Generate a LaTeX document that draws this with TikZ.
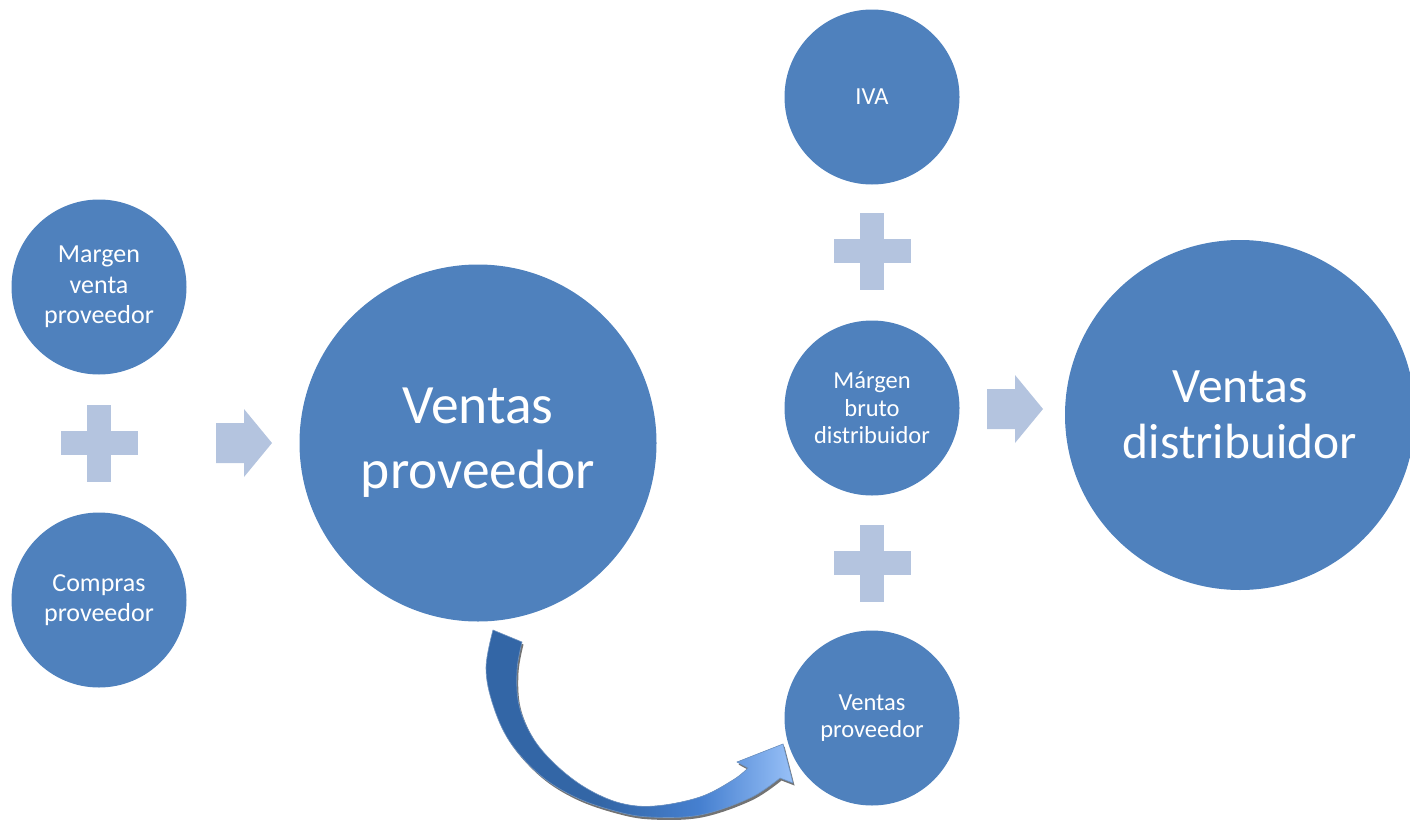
\documentclass[tikz,border=0pt]{standalone}
\usepackage{fontspec}
\setmainfont{Carlito}
\definecolor{circ}{HTML}{4F81BD}
\definecolor{plusc}{HTML}{B4C4DF}
\definecolor{arrdark}{HTML}{3366A6}
\definecolor{arrmid}{HTML}{4680D0}
\definecolor{arrlight}{HTML}{9EC5FA}
\tikzset{
  bubble/.style={circle, fill=circ, text=white, align=center, inner sep=0pt},
  smallbubble/.style={bubble, minimum size=175pt, font=\fontsize{26}{30.5}\selectfont},
  smallbubbleb/.style={bubble, minimum size=175pt, font=\fontsize{24.5}{27.5}\selectfont},
  plussign/.pic={
    \fill[plusc] (-12,-38.5) rectangle (12,38.5);
    \fill[plusc] (-38.5,-12) rectangle (38.5,12);
  },
  blockarr/.pic={
    \fill[plusc] (0,-20) -- (28,-20) -- (28,-34) -- (56,0) -- (28,34) -- (28,20) -- (0,20) -- cycle;
  }
}
\def\curvepath{(493,630) -- (522,642) -- plot[smooth, tension=0.6] coordinates {(522,642) (517,670) (519,705) (533,738) (556,765) (586,788) (620,803) (655,806) (700,797) (733,780) (748,768)} -- (737,762) -- (783,744) -- (793,783) -- (780,778) -- plot[smooth, tension=0.6] coordinates {(780,778) (750,798) (700,815) (650,817) (615,811) (575,797) (540,775) (510,742) (493,705) (486,668) (493,630)} -- cycle}
\begin{document}
\begin{tikzpicture}[x=1pt, y=-1pt]
\useasboundingbox (0,0) rectangle (1410,819);
% left column
\node[smallbubble] (mvp) at (99,287) {Margen\\venta\\proveedor};
\node[smallbubble] (cp) at (99,600) {Compras\\proveedor};
\coordinate (plusL) at (99,443);
\pic at (plusL) {plussign};
\coordinate (arrL) at (216,443);
\pic at (arrL) {blockarr};
% big circle
\node[bubble, minimum size=357pt, font=\fontsize{55.5}{65}\selectfont] (vp) at (478,443) {Ventas\\proveedor};
% right column
\node[smallbubbleb] (iva) at (872,97) {IVA};
\node[smallbubbleb] (mbd) at (872,408) {Márgen\\bruto\\distribuidor};
\node[smallbubbleb] (vps) at (872,718) {Ventas\\proveedor};
\coordinate (plusT) at (872,251);
\pic at (plusT) {plussign};
\coordinate (plusB) at (872,563);
\pic at (plusB) {plussign};
\coordinate (arrR) at (987,409);
\pic at (arrR) {blockarr};
\node[bubble, minimum size=350pt, font=\fontsize{49.5}{56}\selectfont] (vd) at (1240,415) {Ventas\\distribuidor};
% curved arrow from vp to vps
\fill[black!55, shift={(1.5,2.5)}] \curvepath;
\begin{scope}
  \clip \curvepath;
  \fill[arrdark] (480,620) rectangle (800,819);
  \shade[left color=arrdark, right color=arrlight, middle color=arrmid] (600,730) rectangle (800,819);
\end{scope}
\draw[arrdark!70, line width=0.6pt] \curvepath;
\end{tikzpicture}
\end{document}
